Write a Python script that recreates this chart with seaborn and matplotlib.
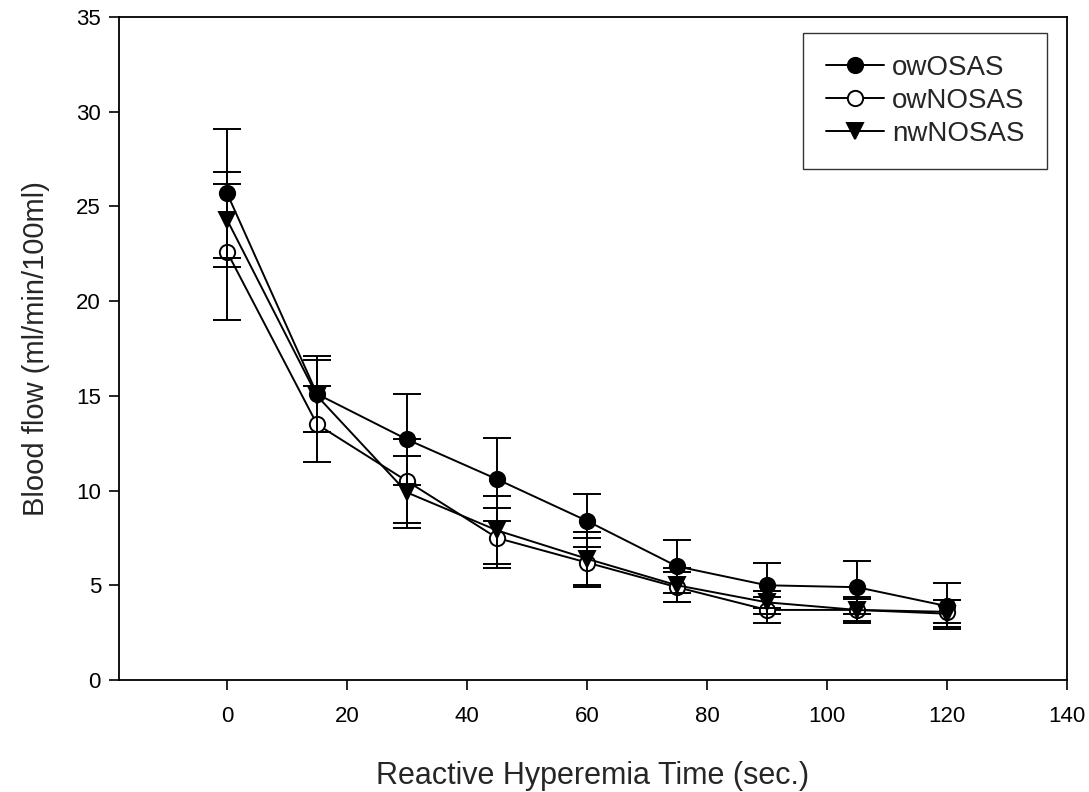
import matplotlib
matplotlib.use("Agg")
import matplotlib.pyplot as plt
import seaborn as sns
import pandas as pd
import numpy as np

time = [0, 15, 30, 45, 60, 75, 90, 105, 120]
ow_osas = [25.7, 15.1, 12.7, 10.6, 8.4, 6.0, 5.0, 4.9, 3.9]
ow_osas_err = [3.4, 2.0, 2.4, 2.2, 1.4, 1.4, 1.2, 1.4, 1.2]
ow_nosas = [22.6, 13.5, 10.5, 7.5, 6.2, 4.9, 3.7, 3.7, 3.6]
ow_nosas_err = [3.6, 2.0, 2.2, 1.6, 1.3, 0.8, 0.7, 0.7, 0.6]
nw_nosas = [24.3, 15.0, 9.9, 7.9, 6.4, 5.0, 4.1, 3.7, 3.5]
nw_nosas_err = [2.5, 1.9, 1.9, 1.8, 1.4, 0.9, 0.6, 0.6, 0.7]
groups = ["owOSAS", "owNOSAS", "nwNOSAS"]

sns.set_style("ticks")
plt.rcParams['font.family'] = ['Liberation Sans', 'DejaVu Sans']

df = pd.concat([
    pd.DataFrame({"time": time, "flow": v, "err": e, "group": g})
    for g, v, e in zip(groups, [ow_osas, ow_nosas, nw_nosas],
                       [ow_osas_err, ow_nosas_err, nw_nosas_err])
])

fig = plt.figure(figsize=(10.89, 7.92), dpi=100)
ax = fig.add_axes([0.1093, 0.1414, 0.8705, 0.8371])

styles = {
    "owOSAS": dict(marker="o", mfc="black"),
    "owNOSAS": dict(marker="o", mfc="white"),
    "nwNOSAS": dict(marker="v", mfc="black"),
}
for g in groups:
    sub = df[df.group == g]
    sns.lineplot(data=sub, x="time", y="flow", ax=ax, color="black", lw=1.4,
                 marker=styles[g]["marker"], markersize=11,
                 markerfacecolor=styles[g]["mfc"], markeredgecolor="black",
                 markeredgewidth=1.4, label=g, zorder=3)
    ax.errorbar(sub["time"], sub["flow"], yerr=sub["err"], fmt="none",
                ecolor="black", elinewidth=1.4, capsize=10, capthick=1.4, zorder=4)

ax.set_xlim(-18, 140)
ax.set_ylim(0, 35)
ax.set_xticks(np.arange(0, 141, 20))
ax.set_yticks(np.arange(0, 36, 5))
ax.tick_params(direction="out", length=7, width=1.2, labelsize=16, colors="black")
ax.tick_params(axis="x", pad=12)
ax.tick_params(axis="y", pad=6)
for s in ax.spines.values():
    s.set_linewidth(1.3)
    s.set_color("black")
ax.set_xlabel("Reactive Hyperemia Time (sec.)", fontsize=22, labelpad=24)
ax.set_ylabel("Blood flow (ml/min/100ml)", fontsize=21, labelpad=19)

leg = ax.legend(loc="upper right", bbox_to_anchor=(0.979, 0.976), borderaxespad=0,
                fontsize=20, frameon=True, fancybox=False, edgecolor="black",
                handlelength=2.1, borderpad=0.8, labelspacing=0.25, handletextpad=0.3)
leg.get_frame().set_linewidth(1.0)

fig.savefig("out.png", dpi=100)
